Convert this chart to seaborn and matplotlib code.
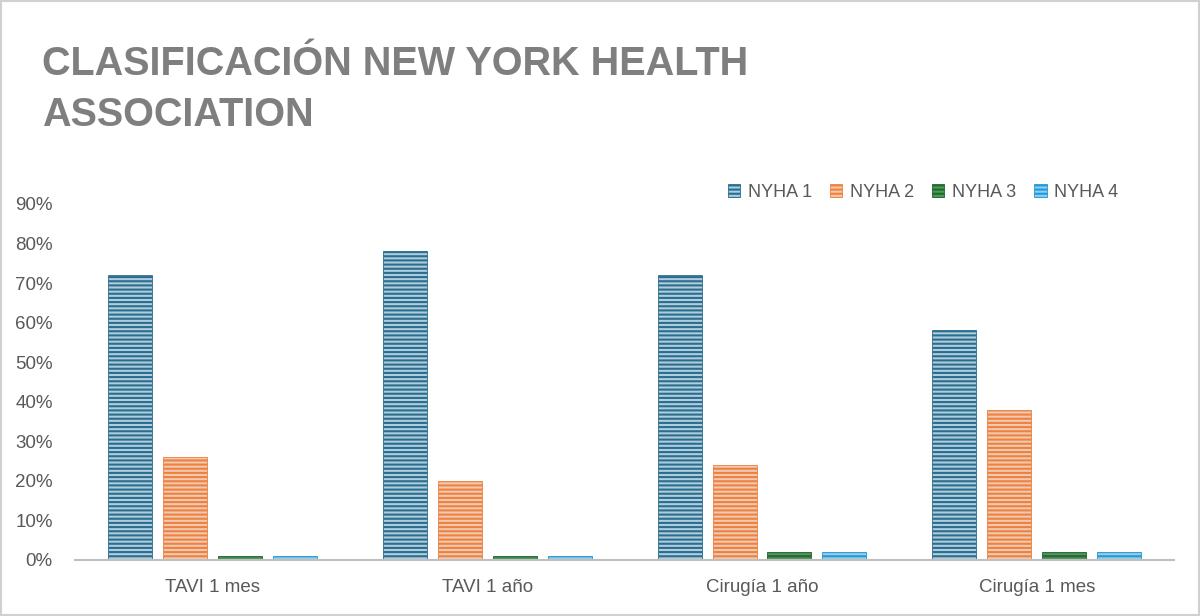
import pandas as pd
import seaborn as sns
import matplotlib.pyplot as plt
from matplotlib.ticker import PercentFormatter
from matplotlib.patches import Rectangle

categories = ['TAVI 1 mes', 'TAVI 1 año', 'Cirugía 1 año', 'Cirugía 1 mes']
series = ['NYHA 1', 'NYHA 2', 'NYHA 3', 'NYHA 4']
nyha1 = [0.72, 0.78, 0.72, 0.58]
nyha2 = [0.26, 0.20, 0.24, 0.38]
nyha3 = [0.01, 0.01, 0.02, 0.02]
nyha4 = [0.01, 0.01, 0.02, 0.02]

fills = ['#a8d0e3', '#f9c8a6', '#4f9a5a', '#8fd0f2']
stripes = ['#2a6d8f', '#ee8040', '#1e6b2c', '#2199d8']

df = pd.DataFrame({
    'grupo': categories * 4,
    'serie': [s for s in series for _ in categories],
    'valor': nyha1 + nyha2 + nyha3 + nyha4,
})

sns.set_style('white')
plt.rcParams['font.family'] = ['Liberation Sans', 'DejaVu Sans']
plt.rcParams['hatch.linewidth'] = 1.5

fig = plt.figure(figsize=(12, 6.16), dpi=100)
ax = fig.add_axes([0.0625, 0.091, 0.916, 0.578])

sns.barplot(data=df, x='grupo', y='valor', hue='serie', order=categories,
            hue_order=series, palette=fills, width=0.8, gap=0.2,
            ax=ax, legend=False)

for i, cont in enumerate(ax.containers):
    for bar in cont:
        bar.set_hatch('----')
        bar.set_edgecolor(stripes[i])
        bar.set_linewidth(0.6)

ax.set_ylim(0, 0.9)
ax.set_yticks([i / 10 for i in range(10)])
ax.yaxis.set_major_formatter(PercentFormatter(1.0, decimals=0))
ax.set_xlabel('')
ax.set_ylabel('')
for s in ['top', 'right', 'left']:
    ax.spines[s].set_visible(False)
ax.spines['bottom'].set_color('#bfbfbf')
ax.spines['bottom'].set_linewidth(1.5)
ax.tick_params(axis='both', length=0, labelsize=13.5, colors='#595959')
ax.tick_params(axis='x', pad=14)
ax.tick_params(axis='y', pad=16)

handles = [Rectangle((0, 0), 1, 1, facecolor=fills[i], edgecolor=stripes[i],
                     hatch='----', linewidth=0.6) for i in range(4)]
fig.legend(handles, series, loc='center', bbox_to_anchor=(0.769, 0.688),
           ncol=4, frameon=False, fontsize=13, labelcolor='#595959',
           handlelength=0.7, handleheight=0.7, handletextpad=0.4,
           columnspacing=1.0)

fig.text(0.035, 0.927, 'CLASIFICACIÓN NEW YORK HEALTH\nASSOCIATION',
         fontsize=28.5, fontweight='bold', color='#7f7f7f', va='top',
         linespacing=1.45)

fig.patches.append(Rectangle((0.001, 0.001), 0.998, 0.997, transform=fig.transFigure,
                             fill=False, edgecolor='#d0d0d0', linewidth=1.5))

fig.savefig('out.png', dpi=100)
